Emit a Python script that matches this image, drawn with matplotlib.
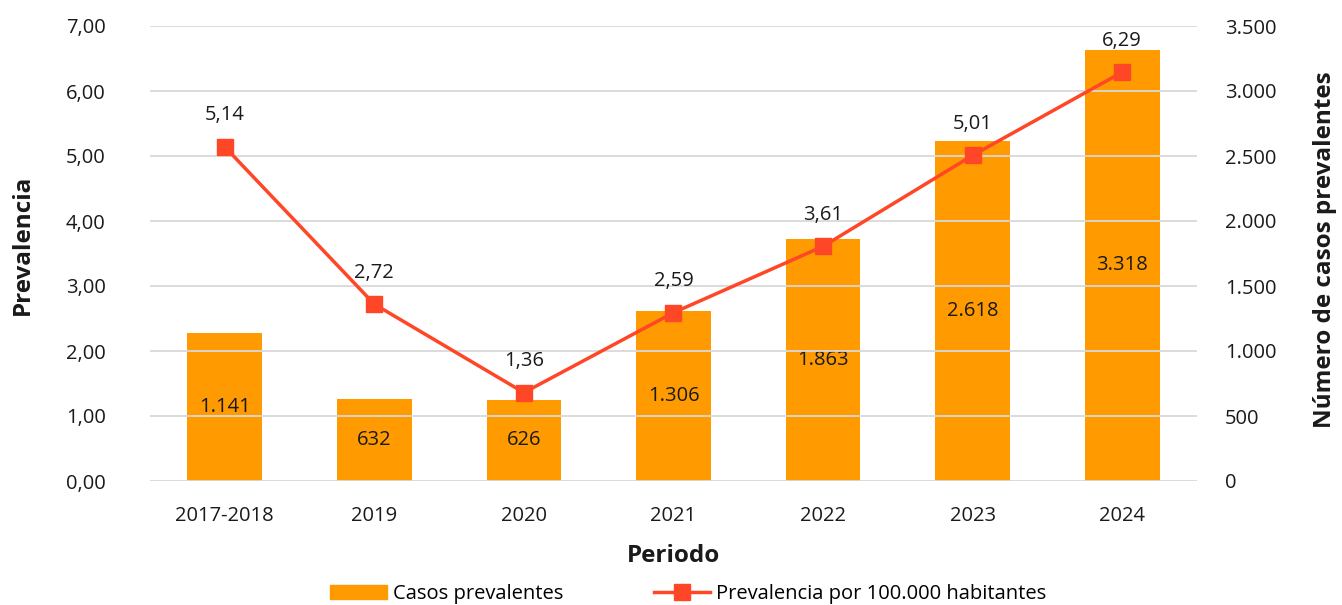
import matplotlib.pyplot as plt
from matplotlib.lines import Line2D
from matplotlib.patches import Patch

plt.rcParams['font.family'] = ['Open Sans', 'DejaVu Sans']

periodos = ['2017-2018', '2019', '2020', '2021', '2022', '2023', '2024']
casos = [1141, 632, 626, 1306, 1863, 2618, 3318]
prevalencia = [5.14, 2.72, 1.36, 2.59, 3.61, 5.01, 6.29]

bar_color = '#FF9B00'
line_color = '#FF4626'
txt = '#1a1a1a'
fs = 14.5


def miles(v):
    return f'{v:,.0f}'.replace(',', '.')


def dec(v):
    return f'{v:.2f}'.replace('.', ',')


fig = plt.figure(figsize=(13.42, 6.05), dpi=100)
ax = fig.add_axes([150/1342, 1-481/605, 1047/1342, 455/605])
ax2 = ax.twinx()

x = range(len(periodos))
ax.set_ylim(0, 7)
ax.set_yticks([i for i in range(8)])
ax.set_yticklabels([dec(i) for i in range(8)])
ax2.set_ylim(0, 3500)
ax2.set_yticks(range(0, 3501, 500))
ax2.set_yticklabels([miles(v) for v in range(0, 3501, 500)])
ax.grid(axis='y', color='#D9D9D9', lw=1.3)
ax.set_axisbelow(True)

# bars live on the right axis, line on the left
ax.set_zorder(ax2.get_zorder() + 1)
ax.patch.set_visible(False)
ax2.bar(x, casos, width=0.5, color=bar_color)
for i, c in enumerate(casos):
    ax2.text(i, c/2, miles(c), ha='center', va='center', fontsize=fs, color=txt)

ax.plot(x, prevalencia, color=line_color, lw=2.5, marker='s', ms=11)
for i, p in enumerate(prevalencia):
    ax.text(i, p + 0.33, dec(p), ha='center', va='bottom', fontsize=fs, color=txt)

ax.set_xlim(-0.5, len(periodos) - 0.5)
ax.set_xticks(list(x))
ax.set_xticklabels(periodos)
for a in (ax, ax2):
    for s in a.spines.values():
        s.set_visible(False)
    a.tick_params(length=0, labelsize=fs, labelcolor=txt)
ax.tick_params(axis='y', pad=32)
ax.tick_params(axis='x', pad=18)
ax2.tick_params(axis='y', pad=20)

lab = dict(fontsize=17.5, fontweight='bold', color=txt, va='center', ha='center')
ax.set_xlabel('Periodo', **lab)
ax.xaxis.set_label_coords(0.5, -0.165)
ax.set_ylabel('Prevalencia', **lab)
ax.yaxis.set_label_coords(-0.1213, 0.52)
ax2.set_ylabel('Número de casos prevalentes', rotation=90, **lab)
ax2.yaxis.set_label_coords(1.1223, 0.508)

handles = [Patch(color=bar_color),
           Line2D([], [], color=line_color, lw=2.5, marker='s', ms=11)]
fig.legend(handles, ['Casos prevalentes', 'Prevalencia por 100.000 habitantes'],
           loc='center', bbox_to_anchor=(0.513, 1-594/605), ncol=2, frameon=False,
           fontsize=fs, handlelength=2.8, columnspacing=4.5, handletextpad=0.3)

fig.savefig('out.png', dpi=100)
